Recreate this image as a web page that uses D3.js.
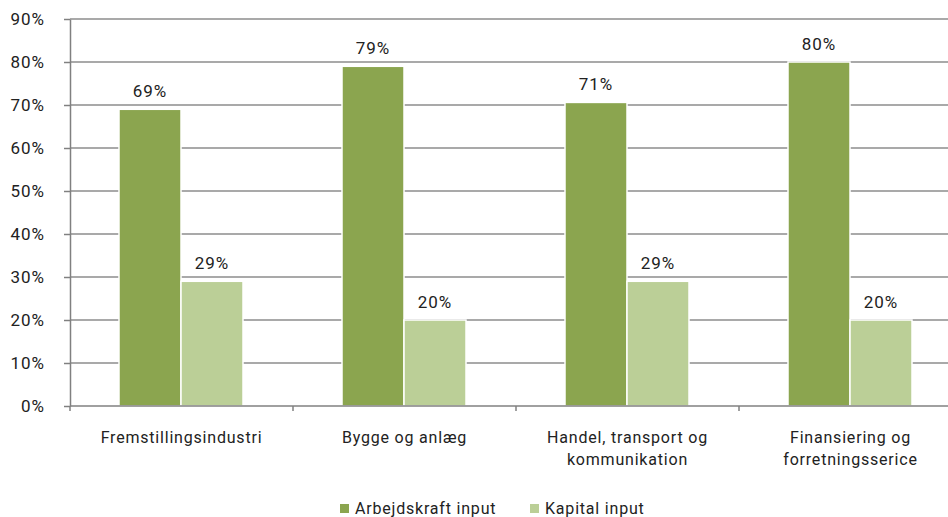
<!DOCTYPE html>
<html>
<head>
    <meta charset="utf-8">
    <title>Arbejdskraft og kapital</title>
    <style>
        body { margin: 0; background: #fff; }
        svg text { font-family: Roboto, "DejaVu Sans", sans-serif; fill: #222; }
        .grid line { stroke: #8c8c8c; stroke-width: 1.5px; }
        .axis path, .axis line { stroke: #808080; stroke-width: 1.5px; }
    </style>
</head>
<body>
    <svg width="948" height="517"></svg>
    <script src="https://d3js.org/d3.v7.min.js"></script>
    <script>
        // data
        var categories = [["Fremstillingsindustri"], ["Bygge og anlæg"], ["Handel, transport og", "kommunikation"], ["Finansiering og", "forretningsserice"]];
        var seriesNames = ["Arbejdskraft input", "Kapital input"];
        var arbejdskraft = [69, 79, 70.6, 80];
        var kapital = [29, 20, 29, 20];
        var yTicks = [0, 10, 20, 30, 40, 50, 60, 70, 80, 90];
        var colors = ["#8ba54f", "#bbcf97"];

        var svg = d3.select("svg");

        var x = d3.scaleBand().domain(d3.range(categories.length)).range([70, 962]);
        var xs = d3.scaleBand().domain([0, 1]).range([49, 223 - 50]);
        var y = d3.scaleLinear().domain([0, 90]).range([406, 19]);

        // gridlines
        svg.append("g").attr("class", "grid")
            .selectAll("line").data(yTicks.slice(1)).enter().append("line")
            .attr("x1", 70).attr("x2", 948)
            .attr("y1", function (d) { return y(d); })
            .attr("y2", function (d) { return y(d); });

        // bars
        var rows = categories.map(function (c, i) { return [arbejdskraft[i], kapital[i]]; });
        var groups = svg.append("g").selectAll("g").data(rows).enter().append("g")
            .attr("transform", function (d, i) { return "translate(" + x(i) + ",0)"; });

        groups.selectAll("rect").data(function (d) { return d; }).enter().append("rect")
            .attr("x", function (d, j) { return xs(j); })
            .attr("y", function (d) { return y(d); })
            .attr("width", xs.bandwidth())
            .attr("height", function (d) { return y(0) - y(d); })
            .attr("fill", function (d, j) { return colors[j]; })
            .attr("stroke", "#fff")
            .attr("stroke-width", 1.5);

        groups.selectAll("text").data(function (d) { return d; }).enter().append("text")
            .attr("x", function (d, j) { return xs(j) + xs.bandwidth() / 2; })
            .attr("y", function (d) { return y(d) - 12; })
            .attr("text-anchor", "middle")
            .style("font-size", "17px")
            .style("letter-spacing", "1px")
            .text(function (d) { return Math.round(d) + "%"; });

        // y axis
        var yAxis = svg.append("g").attr("class", "axis")
            .attr("transform", "translate(70,0)")
            .call(d3.axisLeft(y).tickValues(yTicks).tickSize(6).tickSizeOuter(0).tickPadding(19)
                .tickFormat(function (d) { return d + "%"; }));
        yAxis.selectAll("text").style("font-size", "17px").style("letter-spacing", "1px").attr("fill", "#222");

        // x axis
        var xAxis = svg.append("g").attr("class", "axis");
        xAxis.append("line").attr("x1", 70).attr("x2", 948).attr("y1", y(0)).attr("y2", y(0));
        xAxis.selectAll("line.tick").data(d3.range(categories.length)).enter().append("line")
            .attr("class", "tick")
            .attr("x1", function (i) { return x(i); }).attr("x2", function (i) { return x(i); })
            .attr("y1", y(0)).attr("y2", y(0) + 5);

        var labels = svg.append("g").selectAll("text").data(categories).enter().append("text")
            .attr("x", function (d, i) { return x(i) + x.bandwidth() / 2; })
            .attr("y", 443)
            .attr("text-anchor", "middle")
            .style("font-size", "16px")
            .style("letter-spacing", "0.8px");
        labels.selectAll("tspan").data(function (d) { return d; }).enter().append("tspan")
            .attr("x", function () { return d3.select(this.parentNode).attr("x"); })
            .attr("dy", function (d, k) { return k === 0 ? 0 : 22; })
            .text(function (d) { return d; });

        // legend
        var legendX = [340, 530];
        var legend = svg.append("g").selectAll("g").data(seriesNames).enter().append("g")
            .attr("transform", function (d, i) { return "translate(" + legendX[i] + ",504)"; });
        legend.append("rect").attr("width", 9).attr("height", 9)
            .attr("fill", function (d, i) { return colors[i]; });
        legend.append("text").attr("x", 15).attr("y", 10)
            .style("font-size", "16px").style("letter-spacing", "0.8px")
            .text(function (d) { return d; });
    </script>
</body>
</html>
